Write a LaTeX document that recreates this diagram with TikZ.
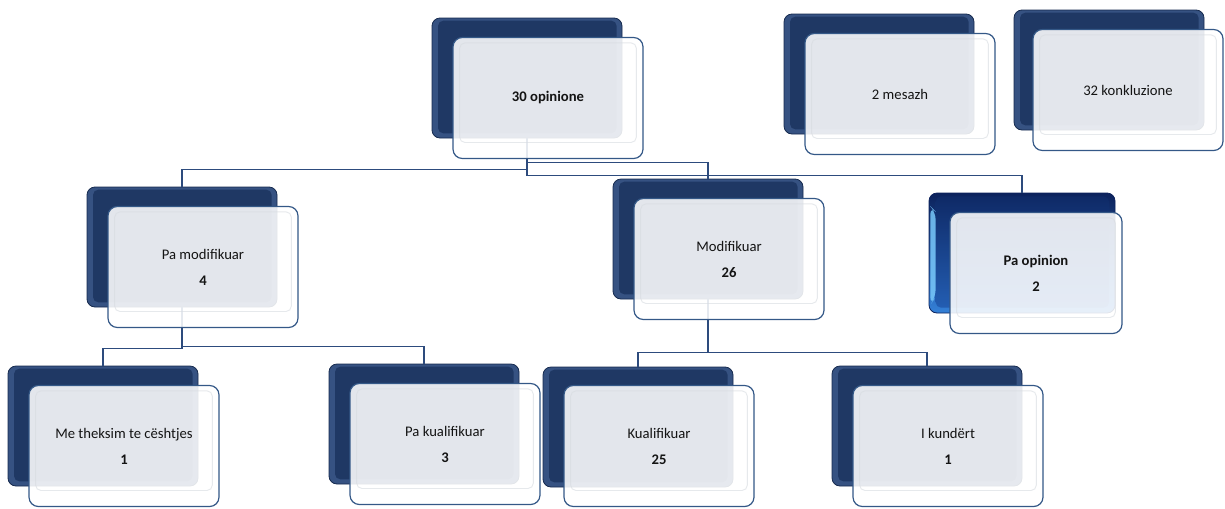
\documentclass[tikz,border=0pt]{standalone}
\usepackage{fontspec}
\setmainfont{Carlito}
\definecolor{navy}{RGB}{31,56,100}
\definecolor{navyedge}{RGB}{54,82,130}
\definecolor{navyline}{RGB}{22,42,78}
\definecolor{frontline}{RGB}{52,88,135}
\definecolor{conncol}{RGB}{45,75,125}
\definecolor{txt}{RGB}{20,20,20}
\definecolor{bevelgray}{RGB}{215,219,224}
\definecolor{potop}{RGB}{12,34,92}
\definecolor{pobot}{RGB}{52,128,215}
\definecolor{pofacetop}{RGB}{14,40,100}
\definecolor{pofacebot}{RGB}{36,96,182}
\definecolor{pocyan}{RGB}{120,200,250}
\begin{document}
\begin{tikzpicture}[x=0.75pt,y=-0.75pt,
  backbox/.style={rounded corners=6pt, minimum width=142.5pt, minimum height=90pt,
    inner sep=0pt, draw=navyline, line width=0.6pt, fill=navyedge,
    path picture={\fill[navy, rounded corners=4pt]
      ([shift={(4.5pt,-2pt)}]path picture bounding box.north west) rectangle
      ([shift={(-4pt,3.5pt)}]path picture bounding box.south east);}},
  pobox/.style={rounded corners=6pt, minimum width=139.5pt, minimum height=90pt,
    inner sep=0pt, draw=potop, line width=0.6pt, top color=potop, bottom color=pobot,
    path picture={
      \shade[top color=pofacetop, bottom color=pofacebot, rounded corners=4pt]
      ([shift={(5pt,-2.5pt)}]path picture bounding box.north west) rectangle
      ([shift={(-4.5pt,4pt)}]path picture bounding box.south east);
      \fill[pocyan, opacity=0.85]
      ([shift={(1pt,-10pt)}]path picture bounding box.north west) --
      ([shift={(5pt,-14pt)}]path picture bounding box.north west) --
      ([shift={(5pt,12pt)}]path picture bounding box.south west) --
      ([shift={(1pt,6pt)}]path picture bounding box.south west) -- cycle;}},
  frontbox/.style={rounded corners=7pt, minimum width=142.5pt, minimum height=90.75pt,
    inner sep=0pt, draw=frontline, line width=0.9pt, fill=white, fill opacity=0.88,
    text opacity=1, align=center, text=txt,
    font=\fontsize{11pt}{19.5pt}\selectfont,
    path picture={\draw[bevelgray, line width=0.7pt, rounded corners=4pt, draw opacity=0.6]
      ([shift={(5pt,-4pt)}]path picture bounding box.north west) rectangle
      ([shift={(-5pt,12pt)}]path picture bounding box.south east);}},
  conn/.style={draw=conncol, line width=1.1pt}
]
\useasboundingbox (0,0) rectangle (1225,508);

% back boxes
\node[backbox] (rootb) at (527,78) {};
\node[backbox] (mesb) at (879,74) {};
\node[backbox] (konkb) at (1109,70) {};
\node[backbox] (pmb) at (182,247) {};
\node[backbox] (modb) at (708,239) {};
\node[pobox] (pob) at (1022,253) {};
\node[backbox] (meb) at (103,426) {};
\node[backbox] (pkb) at (424,424) {};
\node[backbox] (kualb) at (638,427) {};
\node[backbox] (ikb) at (927,426) {};

% connectors
\draw[conn] (rootb.south) -- ++(0,31) -| (pmb.north);
\draw[conn] (rootb.south) -- ++(0,24) -| (modb.north);
\draw[conn] (rootb.south) -- ++(0,37) -| (pob.north);
\draw[conn] (pmb.south) -- ++(0,41) -| (meb.north);
\draw[conn] (pmb.south) -- ++(0,39) -| (pkb.north);
\draw[conn] (modb.south) -- ++(0,53) -| (kualb.north);
\draw[conn] (modb.south) -- ++(0,53) -| (ikb.north);

% front boxes
\node[frontbox] (rootf) at (548,98) {\textbf{30 opinione}};
\node[frontbox] (mesf) at (900,94) {2 mesazh};
\node[frontbox] (konkf) at (1128,90) {32 konkluzione};
\node[frontbox] (pmf) at (203,267) {Pa modifikuar\\ \textbf{4}};
\node[frontbox] (modf) at (729,259) {Modifikuar\\ \textbf{26}};
\node[frontbox, minimum width=129pt] (pof) at (1036,273) {\textbf{Pa opinion}\\ \textbf{2}};
\node[frontbox] (mef) at (124,446) {Me theksim te cështjes\\ \textbf{1}};
\node[frontbox] (pkf) at (445,444) {Pa kualifikuar\\ \textbf{3}};
\node[frontbox] (kualf) at (659,446) {Kualifikuar\\ \textbf{25}};
\node[frontbox] (ikf) at (948,446) {I kundërt\\ \textbf{1}};
\end{tikzpicture}
\end{document}
